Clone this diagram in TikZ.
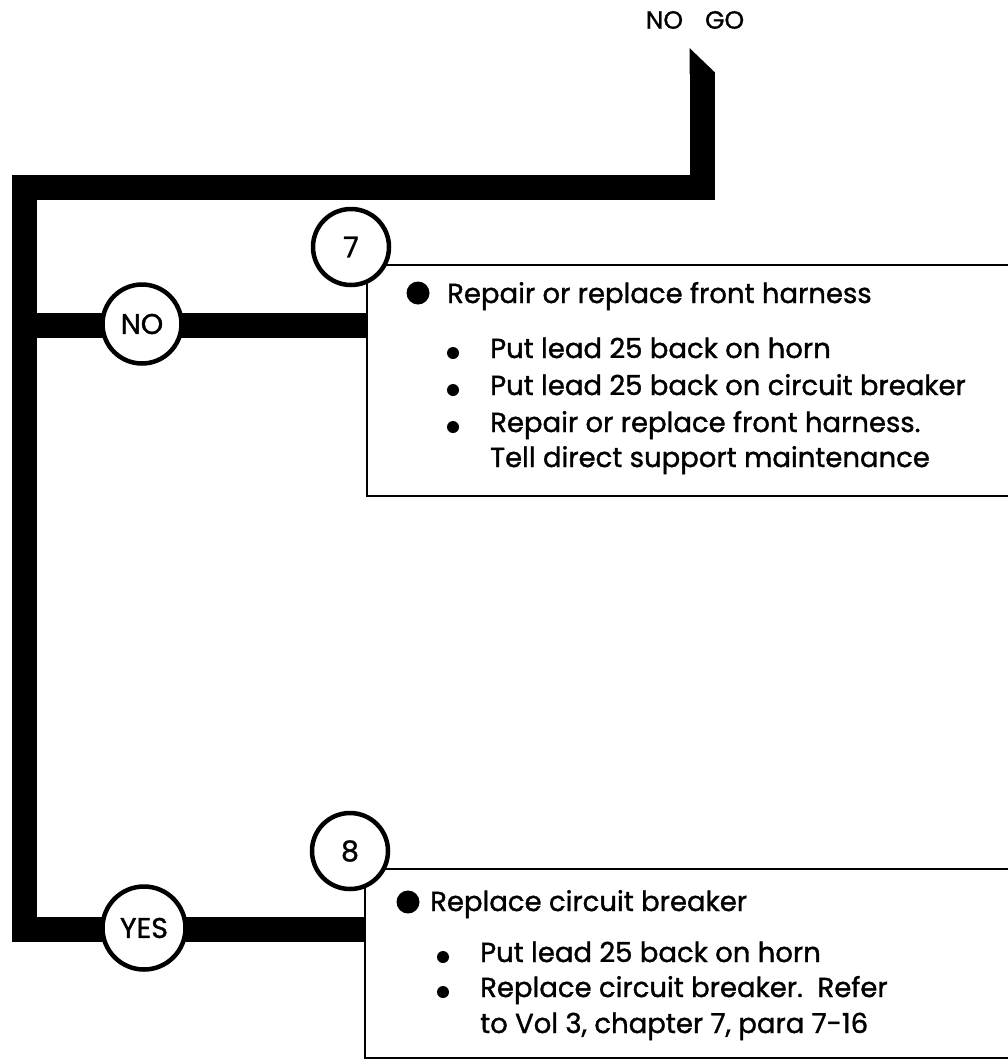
\documentclass[tikz,border=0pt]{standalone}
\usepackage{fontspec}
\setmainfont{Poppins}[FakeBold=1.2]
\usetikzlibrary{positioning}

\tikzset{
  pipe/.style={line width=25pt, line join=miter},
  tag/.style={circle, draw, line width=4.5pt, fill=white, minimum size=80pt, inner sep=0pt, font=\fontsize{28.5}{31}\selectfont},
  stepbox/.style={draw, line width=2.2pt, rectangle, anchor=north west, inner sep=0pt, minimum width=800pt},
  txt/.style={anchor=base west, inner sep=0pt, font=\fontsize{27.5}{30}\selectfont},
  bigdot/.style={circle, fill, inner sep=0pt, minimum size=23pt},
  dot/.style={circle, fill, inner sep=0pt, minimum size=12pt}
}

\begin{document}
\begin{tikzpicture}[x=1pt,y=-1pt]
\useasboundingbox (0,0) rectangle (1008,1061);
\clip (0,0) rectangle (1008,1061);

\node[font=\fontsize{25}{28}\selectfont] (go) at (695,20) {NO\hspace{22pt}GO};

\coordinate (tip) at (702,72);
\coordinate (c1) at (702,187);
\coordinate (c2) at (24,187);
\coordinate (c3) at (24,929);
\coordinate (n0) at (24,325);

\node[stepbox, minimum height=231pt] (B7) at (366,264) {};
\node[stepbox, minimum height=189pt] (B8) at (364,868) {};

% thick flow lines
\draw[pipe] (tip) -- (c1) -- (c2) -- (c3) -- (c3 -| B8.north west);
\draw[pipe] (n0) -- (n0 -| B7.north west);
\fill (689.5,74) -- (714.5,74) -- (714.5,72) -- (689.5,48) -- cycle;

\node[tag, minimum size=79pt] (no) at (142,324) {NO};
\node[tag, minimum size=83pt] (yes) at (144,928) {YES};
\node[tag, minimum size=76pt] (s7) at (351,247) {7};
\node[tag, minimum size=76pt] (s8) at (350,851) {8};

% box 7
\node[bigdot] at (418,293) {};
\node[txt] (r1) at (447,303) {Repair or replace front harness};
\node[dot] at (453,353) {};
\node[txt] (r2) at (490,358) {Put lead 25 back on horn};
\node[dot] at (453,390) {};
\node[txt] (r3) at (490,395) {Put lead 25 back on circuit breaker};
\node[dot] at (453,427) {};
\node[txt] (r4) at (490,432) {Repair or replace front harness.};
\node[txt] (r5) at (490,467) {Tell direct support maintenance};

% box 8
\node[bigdot] at (408,902) {};
\node[txt] (q1) at (430,911) {Replace circuit breaker};
\node[dot] at (443,957) {};
\node[txt] (q2) at (480,962) {Put lead 25 back on horn};
\node[dot] at (443,992) {};
\node[txt] (q3) at (480,997) {Replace circuit breaker.\ \ Refer};
\node[txt] (q4) at (480,1033) {to Vol 3, chapter 7, para 7-16};
\end{tikzpicture}
\end{document}
